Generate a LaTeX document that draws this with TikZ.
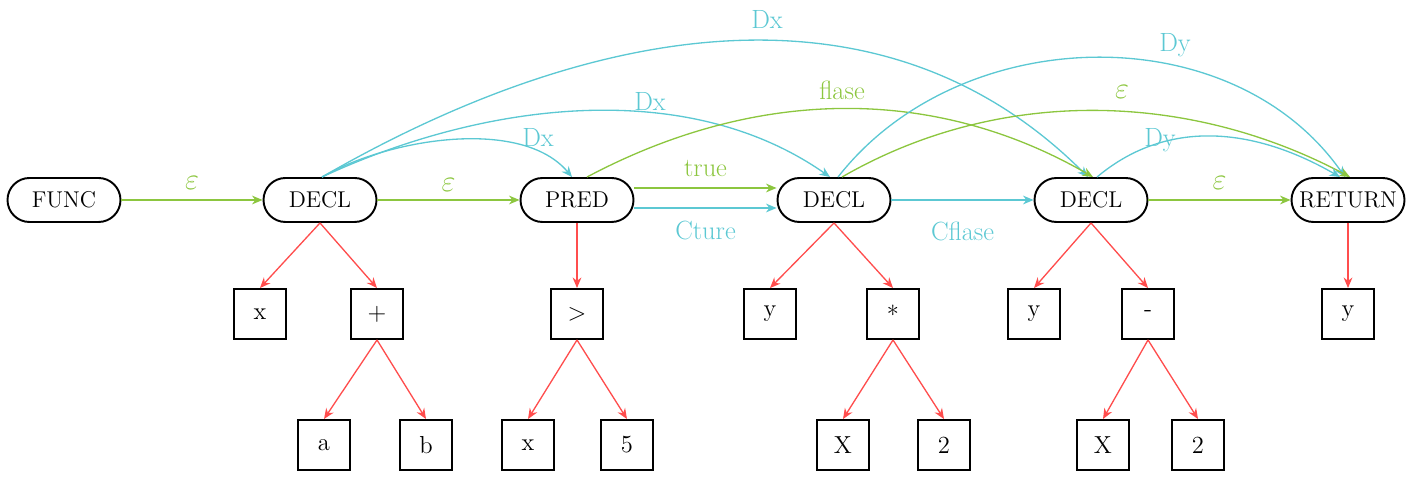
\documentclass[tikz,border=0pt]{standalone}
\usepackage{fontspec}
\usepackage{tikz}
\usetikzlibrary{shapes,arrows.meta,positioning}

\definecolor{flowgreen}{HTML}{8CC63F}
\definecolor{datacyan}{HTML}{5CC8D3}
\definecolor{astred}{HTML}{FF4D4D}

\begin{document}
\begin{tikzpicture}[
    stmt/.style={rectangle, draw, line width=1.1pt, rounded corners=0.44cm, minimum width=2.26cm, minimum height=0.88cm, inner sep=0pt, font=\fontsize{13}{15}\selectfont},
    leaf/.style={rectangle, draw, line width=1.1pt, minimum width=1.04cm, minimum height=1cm, inner sep=0pt, font=\fontsize{14}{16}\selectfont},
    ctrl/.style={-{Stealth[length=6pt,width=5pt]}, flowgreen, line width=0.75pt},
    data/.style={-{Stealth[length=6pt,width=5pt]}, datacyan, line width=0.75pt},
    ast/.style={-{Stealth[length=6pt,width=5pt]}, astred, line width=0.75pt},
    glbl/.style={font=\fontsize{15}{17}\selectfont, flowgreen, inner sep=1pt},
    clbl/.style={font=\fontsize{15}{17}\selectfont, datacyan, inner sep=1pt},
    eps/.style={font=\fontsize{18}{20}\selectfont, flowgreen, inner sep=1pt}
]
\useasboundingbox (0,0) rectangle (28.38,-9.54);

% Statement chain
\node[stmt] (func) at (1.28,-4) {FUNC};
\node[stmt] (declA) at (6.40,-4) {DECL};
\node[stmt] (pred) at (11.54,-4) {PRED};
\node[stmt] (declB) at (16.68,-4) {DECL};
\node[stmt] (declC) at (21.82,-4) {DECL};
\node[stmt] (ret) at (26.96,-4) {RETURN};

% Expression trees, first level
\node[leaf] (xA) at (5.20,-6.28) {x};
\node[leaf] (plus) at (7.54,-6.28) {+};
\node[leaf] (gt) at (11.54,-6.28) {>};
\node[leaf] (yA) at (15.40,-6.28) {y};
\node[leaf] (times) at (17.86,-6.28) {*};
\node[leaf] (yB) at (20.68,-6.28) {y};
\node[leaf] (minus) at (22.96,-6.28) {-};
\node[leaf] (yC) at (26.96,-6.28) {y};

% Expression trees, second level
\node[leaf] (a) at (6.48,-8.9) {a};
\node[leaf] (b) at (8.52,-8.9) {b};
\node[leaf] (xB) at (10.56,-8.9) {x};
\node[leaf] (five) at (12.54,-8.9) {5};
\node[leaf] (XA) at (16.86,-8.9) {X};
\node[leaf] (twoA) at (18.88,-8.9) {2};
\node[leaf] (XB) at (22.06,-8.9) {X};
\node[leaf] (twoB) at (23.96,-8.9) {2};

% Control flow
\draw[ctrl] (func) -- node[eps, yshift=0.34cm] {$\varepsilon$} (declA);
\draw[ctrl] (declA) -- node[eps, yshift=0.30cm] {$\varepsilon$} (pred);
\draw[ctrl] ([yshift=0.24cm]pred.east) -- node[glbl, yshift=0.38cm] {true} ([yshift=0.24cm]declB.west);
\draw[data] ([yshift=-0.16cm]pred.east) -- node[clbl, yshift=-0.46cm] {Cture} ([yshift=-0.16cm]declB.west);
\draw[data] (declB) -- node[clbl, yshift=-0.62cm] {Cflase} (declC);
\draw[ctrl] (declC) -- node[eps, yshift=0.34cm] {$\varepsilon$} (ret);

% Curved flow
\draw[data] ([xshift=0.04cm]declA.north) to[out=30, in=130, looseness=0.8] ([xshift=-0.1cm]pred.north);
\draw[data] ([xshift=0.04cm]declA.north) to[out=25, in=145, looseness=0.89] ([xshift=-0.08cm]declB.north);
\draw[data] ([xshift=0.04cm]declA.north) to[out=30, in=135] ([xshift=-0.06cm]declC.north);
\draw[ctrl] ([xshift=0.2cm]pred.north) to[out=28, in=150, looseness=0.95] ([xshift=0.04cm]declC.north);
\draw[data] ([xshift=0.08cm]declB.north) to[out=52, in=125] ([xshift=-0.06cm]ret.north);
\draw[ctrl] ([xshift=0.16cm]declB.north) to[out=30, in=152, looseness=0.92] ([xshift=0.04cm]ret.north);
\draw[data] ([xshift=0.12cm]declC.north) to[out=40, in=150] ([xshift=-0.16cm]ret.north);

% Labels
\node[clbl] (dxA) at (10.76,-2.76) {Dx};
\node[clbl] (dxB) at (13.0,-2.04) {Dx};
\node[clbl] (dxC) at (15.34,-0.40) {Dx};
\node[glbl] (flase) at (16.84,-1.80) {flase};
\node[clbl] (dyA) at (23.5,-0.9) {Dy};
\node[eps] (epsB) at (22.44,-1.84) {$\varepsilon$};
\node[clbl] (dyB) at (23.2,-2.8) {Dy};

% Tree edges
\draw[ast] (declA.south) -- (xA.north);
\draw[ast] (declA.south) -- (plus.north);
\draw[ast] (plus.south) -- (a.north);
\draw[ast] (plus.south) -- (b.north);
\draw[ast] (pred.south) -- (gt.north);
\draw[ast] (gt.south) -- (xB.north);
\draw[ast] (gt.south) -- (five.north);
\draw[ast] (declB.south) -- (yA.north);
\draw[ast] (declB.south) -- (times.north);
\draw[ast] (times.south) -- (XA.north);
\draw[ast] (times.south) -- (twoA.north);
\draw[ast] (declC.south) -- (yB.north);
\draw[ast] (declC.south) -- (minus.north);
\draw[ast] (minus.south) -- (XB.north);
\draw[ast] (minus.south) -- (twoB.north);
\draw[ast] (ret.south) -- (yC.north);

\end{tikzpicture}
\end{document}
